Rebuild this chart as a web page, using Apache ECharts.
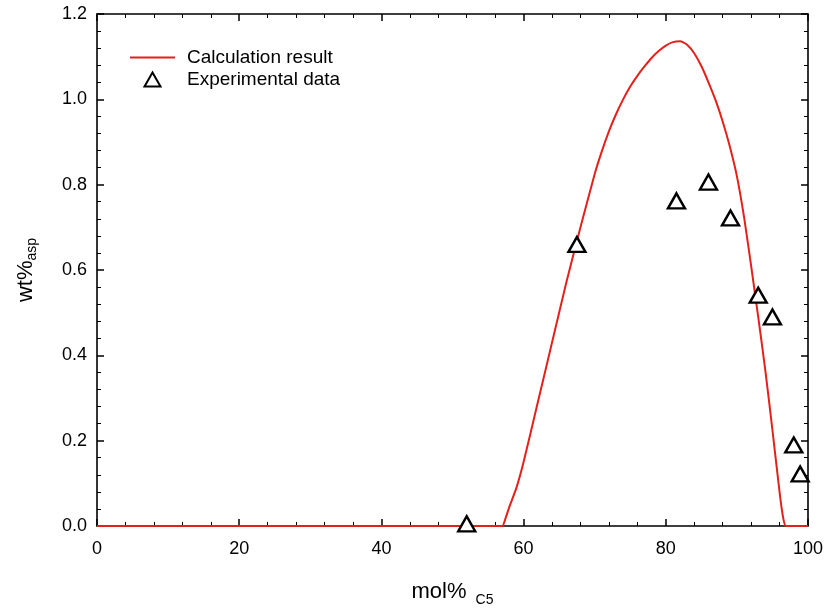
<!DOCTYPE html>
<html>
<head>
<meta charset="utf-8">
<script src="https://cdn.jsdelivr.net/npm/echarts@6/dist/echarts.min.js"></script>
<style>html,body{margin:0;padding:0;background:#fff}#c{width:826px;height:612px}</style>
</head>
<body>
<div id="c"></div>
<script>
// Calculation result curve (mol% C5, wt% asp)
const calcX = [0, 10, 20, 30, 40, 50, 56, 57, 57.5, 58, 59, 60, 62, 64, 66, 68, 70, 71, 72, 73, 74, 75, 76, 77, 78, 79, 80, 81, 82, 83, 84, 85, 86, 87, 88, 89, 90, 91, 92, 93, 94, 95, 96, 96.5, 96.9, 98, 100];
const calcY = [0, 0, 0, 0, 0, 0, 0, 0, 0.02, 0.045, 0.09, 0.15, 0.29, 0.43, 0.57, 0.70, 0.825, 0.878, 0.925, 0.965, 1.0, 1.03, 1.055, 1.077, 1.097, 1.113, 1.126, 1.134, 1.136, 1.128, 1.108, 1.078, 1.04, 0.998, 0.948, 0.89, 0.82, 0.725, 0.61, 0.49, 0.365, 0.225, 0.08, 0.02, 0, 0, 0];
// Experimental data
const expX = [52.0, 67.5, 81.5, 86.0, 89.1, 93.0, 95.0, 98.0, 98.9];
const expY = [0.005, 0.66, 0.762, 0.806, 0.722, 0.541, 0.49, 0.19, 0.122];
// Axis ticks
const xTicks = { min: 0, max: 100, interval: 20 };
const yTicks = { min: 0, max: 1.2, interval: 0.2 };

const chart = echarts.init(document.getElementById('c'));
const font = 'Liberation Sans, Arial, sans-serif';
const lineStyle = { color: '#000', width: 1.6 };
const axisLine = { show: true, onZero: false, lineStyle };
const tick = { inside: true, length: 7, lineStyle: { color: '#000', width: 1.5 } };
const minor = { show: true, splitNumber: 5, length: 4, lineStyle: { color: '#000', width: 1 } };

chart.setOption({
  animation: false,
  backgroundColor: '#fff',
  grid: { left: 97, right: 16, top: 14, bottom: 86, show: false },
  legend: {
    orient: 'vertical', left: 125, top: 43,
    itemWidth: 45, itemHeight: 14, itemGap: 3,
    textStyle: { fontFamily: font, fontSize: 19, lineHeight: 19, color: '#000', padding: [0, 0, 0, 7] },
    data: [
      { name: 'Calculation result', icon: 'path://M0,0H45V2H0Z' },
      { name: 'Experimental data', icon: 'path://M8,0L16,14L0,14Z' }
    ]
  },
  xAxis: [{
    type: 'value', min: xTicks.min, max: xTicks.max, interval: xTicks.interval,
    axisLine, axisTick: tick, minorTick: minor,
    splitLine: { show: false },
    axisLabel: { fontFamily: font, fontSize: 18, color: '#000', margin: 14 },
    name: '{a|mol%}{b|C5}', nameLocation: 'middle', nameGap: 51,
    nameTextStyle: { rich: {
      a: { fontFamily: font, fontSize: 22, color: '#000' },
      b: { fontFamily: font, fontSize: 14, color: '#000', verticalAlign: 'bottom', padding: [16, 0, 0, 9] }
    } }
  }, {
    type: 'value', position: 'top', min: xTicks.min, max: xTicks.max, interval: xTicks.interval,
    axisLine, axisTick: tick, minorTick: minor,
    splitLine: { show: false }, axisLabel: { show: false }
  }],
  yAxis: [{
    type: 'value', min: yTicks.min, max: yTicks.max, interval: yTicks.interval,
    axisLine, axisTick: tick, minorTick: minor,
    splitLine: { show: false },
    axisLabel: { fontFamily: font, fontSize: 18, color: '#000', margin: 10, formatter: v => v.toFixed(1) },
    name: '{a|wt%}{b|asp}', nameLocation: 'middle', nameGap: 58, nameRotate: 90,
    nameTextStyle: { rich: {
      a: { fontFamily: font, fontSize: 22, color: '#000' },
      b: { fontFamily: font, fontSize: 14, color: '#000', verticalAlign: 'bottom', padding: [12, 0, 0, 0] }
    } }
  }, {
    type: 'value', position: 'right', min: yTicks.min, max: yTicks.max, interval: yTicks.interval,
    axisLine, axisTick: tick, minorTick: minor,
    splitLine: { show: false }, axisLabel: { show: false }
  }],
  series: [{
    name: 'Calculation result', type: 'line', smooth: 0.2, symbol: 'none',
    lineStyle: { color: '#e3211c', width: 2 }, itemStyle: { color: '#e3211c' },
    data: calcX.map((x, i) => [x, calcY[i]]), z: 3
  }, {
    name: 'Experimental data', type: 'scatter', symbol: 'triangle', symbolSize: [17, 15],
    itemStyle: { color: '#fff', borderColor: '#000', borderWidth: 2.4, opacity: 1 },
    data: expX.map((x, i) => [x, expY[i]]), z: 4
  }]
});
</script>
</body>
</html>
